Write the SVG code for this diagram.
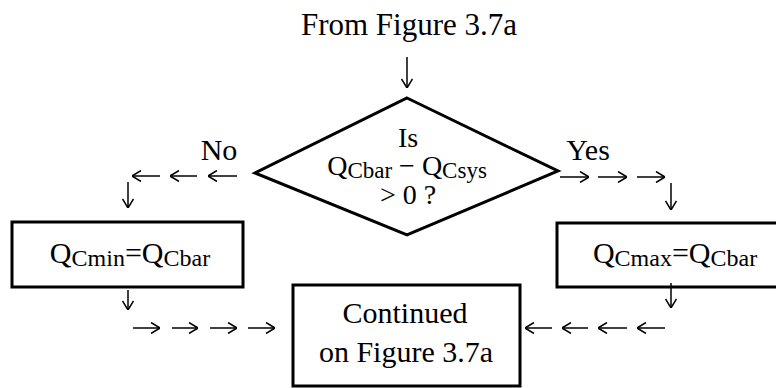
<svg xmlns="http://www.w3.org/2000/svg" width="776" height="388" viewBox="0 0 776 388">
  <style>
    text { font-family: "Liberation Serif", "Times New Roman", serif; font-size: 30px; fill: #000; text-anchor: middle; }
    .sub { font-size: 24px; }
    .cond { font-size: 28px; }
    .cond .sub { font-size: 23px; }
    .shape { fill: #fff; stroke: #000; stroke-width: 3; }
    .conn path { fill: none; stroke: #000; stroke-width: 1.5; marker-end: url(#ah); }
  </style>
  <defs>
    <marker id="ah" viewBox="0 0 10 12" refX="10" refY="6" markerWidth="10" markerHeight="12" orient="auto" markerUnits="userSpaceOnUse">
      <path d="M1,0.5 L10,6 L1,11.5" fill="none" stroke="#000" stroke-width="1.5"/>
    </marker>
  </defs>
  <rect width="776" height="388" fill="#fff"/>

  <g id="start">
    <text x="409" y="35" style="font-size:31px">From Figure 3.7a</text>
  </g>

  <g id="decision">
    <polygon class="shape" points="407,98 558,171 407,235 255,173"/>
    <text class="cond" x="408" y="147">Is</text>
    <text class="cond" x="407" y="175">Q<tspan class="sub" dy="3">Cbar</tspan><tspan dy="-3"> − Q</tspan><tspan class="sub" dy="3">Csys</tspan></text>
    <text class="cond" x="408" y="204">&gt; 0 ?</text>
  </g>

  <g id="set-min">
    <rect class="shape" x="12" y="222" width="231" height="65"/>
    <text x="130" y="263">Q<tspan class="sub" dy="3">Cmin</tspan><tspan dy="-3">=Q</tspan><tspan class="sub" dy="3">Cbar</tspan></text>
  </g>

  <g id="set-max">
    <rect class="shape" x="557" y="223" width="226" height="64"/>
    <text x="675" y="263">Q<tspan class="sub" dy="3">Cmax</tspan><tspan dy="-3">=Q</tspan><tspan class="sub" dy="3">Cbar</tspan></text>
  </g>

  <g id="continued">
    <rect class="shape" x="293" y="285" width="227" height="101"/>
    <text x="405" y="323">Continued</text>
    <text x="406" y="362">on Figure 3.7a</text>
  </g>

  <g id="labels">
    <text x="219" y="160">No</text>
    <text x="588" y="160">Yes</text>
  </g>

  <g class="conn" id="connectors">
    <path d="M407,57 V88"/>
    <!-- No branch -->
    <path d="M237,176 H208"/>
    <path d="M197,176 H170"/>
    <path d="M160,176 H132"/>
    <path d="M128,182 V208"/>
    <path d="M128,290 V310"/>
    <path d="M133,328 H160"/>
    <path d="M172,328 H198"/>
    <path d="M210,328 H237"/>
    <path d="M248,328 H275"/>
    <!-- Yes branch -->
    <path d="M560,177 H589"/>
    <path d="M598,177 H627"/>
    <path d="M637,177 H665"/>
    <path d="M671,183 V210"/>
    <path d="M671,283 V308"/>
    <path d="M665,328 H637"/>
    <path d="M627,328 H598"/>
    <path d="M588,328 H562"/>
    <path d="M552,328 H525"/>
  </g>
</svg>
